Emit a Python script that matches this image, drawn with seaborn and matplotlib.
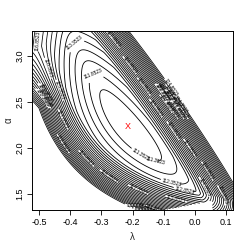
import numpy as np
import matplotlib
matplotlib.use("Agg")
import matplotlib.pyplot as plt
import seaborn as sns

# axis ticks
lam_ticks = [-0.5, -0.4, -0.3, -0.2, -0.1, 0.0, 0.1]
alpha_ticks = [1.5, 2.0, 2.5, 3.0]
lam_lim = [-0.524, 0.124]
alpha_lim = [1.328, 3.272]

# maximum likelihood estimate (red X) and the minimum of -loglik
mle_lam = -0.215
mle_alpha = 2.23
nll_min = 110.85

# contour levels (the first n_open ones get hand-placed labels)
level_first = 111.3523
level_step = 0.5
n_levels = 28
n_open = 8

# where the labels of the open contours sit: lambda, alpha
label_lam = [-0.379, -0.330, -0.169, -0.127, -0.073, -0.031, 0.043]
label_alpha = [3.12, 2.85, 1.96, 1.85, 1.65, 1.57, 1.60]

# shape of the surface, measured in screen pixels
across_scale, across_width = 1.0, 10.0
along_up, along_down = 0.000247, 0.00024
wall_height, wall_width, wall_power = 8.5, 32.0, 1.3
wall1 = [(128, 31), (219, 168)]          # upper-right boundary
hyp_a, hyp_b, hyp_k = -32.7, 278.5, 11916.0   # lower-left boundary (x-a)(b-y)=k
hole_edge = [(150, 213), (212, 201)]     # undefined region at the bottom
hole_right = 212


def to_screen(lam, alp):
    return 32 + (lam + 0.524) * 310.2, 31 + (3.272 - alp) * 92.1


def line_dist(x, y, p, q):
    tx, ty = q[0] - p[0], q[1] - p[1]
    n = np.hypot(tx, ty)
    return ((x - p[0]) * (-ty) + (y - p[1]) * tx) / n


def surface(lam, alp):
    x, y = to_screen(lam, alp)
    cx, cy = to_screen(mle_lam, mle_alpha)
    tx, ty = wall1[1][0] - wall1[0][0], wall1[1][1] - wall1[0][1]
    n = np.hypot(tx, ty)
    tx, ty = tx / n, ty / n

    def dists(x, y):
        d1 = line_dist(x, y, *wall1)
        h = (x - hyp_a) * (hyp_b - y) - hyp_k
        d2 = h / np.hypot(hyp_b - y, x - hyp_a)
        return d1, d2

    d1, d2 = dists(x, y)
    c1, c2 = dists(cx, cy)
    u = (d2 - d1) / 2 - (c2 - c1) / 2
    v = (x - cx) * (-tx) + (y - cy) * (-ty)
    fade = np.clip((115 - v) / 50, 0, 1)

    def wall(d):
        return np.clip(1 - d / wall_width, 0, None) ** wall_power

    g = (across_scale * (np.sqrt(1 + (u / across_width) ** 2) - 1)
         + np.where(v > 0, along_up, along_down) * v ** 2
         + wall_height * (wall(d1) + fade * wall(d2)))
    z = nll_min + g
    hole = (line_dist(x, y, *hole_edge) > 0) & (x < hole_right)
    return np.ma.masked_where(hole, z)


sns.set_theme(style="white")
plt.rcParams['font.family'] = ['Liberation Sans', 'DejaVu Sans']

lam = np.linspace(lam_lim[0], lam_lim[1], 400)
alp = np.linspace(alpha_lim[0], alpha_lim[1], 400)
L, A = np.meshgrid(lam, alp)
Z = surface(L, A)
levels = level_first + level_step * np.arange(n_levels)

fig = plt.figure(figsize=(2.49, 2.50), dpi=100)
ax = fig.add_axes([32 / 249, 1 - 210 / 250, 201 / 249, 179 / 250])

cs_open = ax.contour(L, A, Z, levels=levels[:n_open], colors='black', linewidths=0.6)
cs_band = ax.contour(L, A, Z, levels=levels[n_open:], colors='black', linewidths=0.55)
ax.clabel(cs_open, manual=list(zip(label_lam, label_alpha)), fmt='%.4f',
          fontsize=3.5, inline=True, inline_spacing=1)
ax.clabel(cs_band, fmt='%.4f', fontsize=3.5, inline=True, inline_spacing=1)

ax.text(mle_lam, mle_alpha, 'X', color='red', fontsize=6.5, ha='center', va='center')

ax.set_xlim(lam_lim)
ax.set_ylim(alpha_lim)
ax.set_xticks(lam_ticks)
ax.set_yticks(alpha_ticks)
ax.set_xticklabels([f'{t:.1f}' for t in lam_ticks])
ax.set_yticklabels([f'{t:.1f}' for t in alpha_ticks], rotation=90, va='center')
ax.tick_params(axis='both', direction='out', length=3.5, width=0.6,
               labelsize=6.5, color='black', labelcolor='black', pad=2,
               bottom=True, left=True)
for sp in ax.spines.values():
    sp.set_linewidth(0.7)
    sp.set_color('black')
ax.set_xlabel('λ', fontsize=7, labelpad=4)
ax.set_ylabel('α', fontsize=7, labelpad=1)

fig.savefig('out.png', dpi=100)
